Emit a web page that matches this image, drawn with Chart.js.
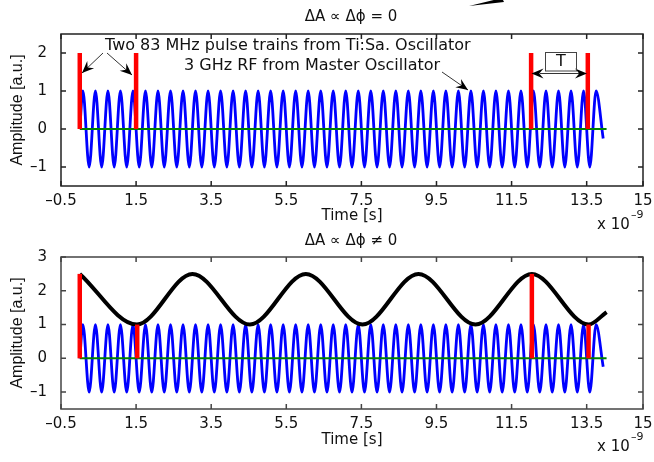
<!DOCTYPE html>
<html>
<head>
<meta charset="utf-8">
<script src="https://cdn.jsdelivr.net/npm/chart.js@4.4.1/dist/chart.umd.min.js"></script>
<style>
  html, body { margin: 0; padding: 0; background: #fff; }
  body { width: 654px; height: 462px; position: relative; overflow: hidden; }
  canvas { position: absolute; left: 0; }
  #topChart { top: 0; }
  #bottomChart { top: 230px; }
</style>
</head>
<body>
<canvas id="topChart" width="654" height="240"></canvas>
<canvas id="bottomChart" width="654" height="232"></canvas>
<script>
// time in ns (axis shows "x 10^-9")
const xTicks = [-0.5, 1.5, 3.5, 5.5, 7.5, 9.5, 11.5, 13.5, 15];
const yTicksTop = [-1, 0, 1, 2];
const yTicksBottom = [-1, 0, 1, 2, 3];

// 3 GHz RF: start, every peak / trough, end
const rfTime = [0,
  0.083, 0.25, 0.417, 0.583, 0.75, 0.917,
  1.083, 1.25, 1.417, 1.583, 1.75, 1.917,
  2.083, 2.25, 2.417, 2.583, 2.75, 2.917,
  3.083, 3.25, 3.417, 3.583, 3.75, 3.917,
  4.083, 4.25, 4.417, 4.583, 4.75, 4.917,
  5.083, 5.25, 5.417, 5.583, 5.75, 5.917,
  6.083, 6.25, 6.417, 6.583, 6.75, 6.917,
  7.083, 7.25, 7.417, 7.583, 7.75, 7.917,
  8.083, 8.25, 8.417, 8.583, 8.75, 8.917,
  9.083, 9.25, 9.417, 9.583, 9.75, 9.917,
  10.083, 10.25, 10.417, 10.583, 10.75, 10.917,
  11.083, 11.25, 11.417, 11.583, 11.75, 11.917,
  12.083, 12.25, 12.417, 12.583, 12.75, 12.917,
  13.083, 13.25, 13.417, 13.583, 13.75,
  13.94];
const rfAmp = [0,
  1, -1, 1, -1, 1, -1,
  1, -1, 1, -1, 1, -1,
  1, -1, 1, -1, 1, -1,
  1, -1, 1, -1, 1, -1,
  1, -1, 1, -1, 1, -1,
  1, -1, 1, -1, 1, -1,
  1, -1, 1, -1, 1, -1,
  1, -1, 1, -1, 1, -1,
  1, -1, 1, -1, 1, -1,
  1, -1, 1, -1, 1, -1,
  1, -1, 1, -1, 1, -1,
  1, -1, 1, -1, 1, -1,
  1, -1, 1, -1, 1, -1,
  1, -1, 1, -1, 1,
  -0.25];

const baseTime = [0, 14.03];
const baseAmp = [0, 0];

const pulseTimeTop = [0, 1.5, 12.02, 13.53];
const pulseAmpTop = [2, 2, 2, 2];
const pulseTimeBottom = [0, 1.53, 12.04, 13.55];
const pulseAmpBottom = [2.5, 1, 2.5, 1];

const envTime = [0, 1.52, 3.0, 4.53, 6.02, 7.53, 9.02, 10.54, 12.04, 13.55, 14.03];
const envAmp = [2.5, 1, 2.5, 1, 2.5, 1, 2.5, 1, 2.5, 1, 1.37];

const FONT_H = '"DejaVu Sans"';
const TXT = '#111';

const pts = (xs, ys) => xs.map((x, i) => ({ x: x, y: ys[i] }));
const fmt = v => String(v).replace('-', '\u2013');

function line(data, color, width, order) {
  return {
    data: data, borderColor: color, borderWidth: width, order: order,
    pointRadius: 0, fill: false, cubicInterpolationMode: 'monotone', borderCapStyle: 'butt'
  };
}

function pulses(times, amps) {
  return times.map((t, i) => line([{ x: t, y: 0 }, { x: t, y: amps[i] }], '#ff0000', 4.5, 0));
}

function arrowHead(ctx, x0, y0, x1, y1, L, W) {
  const ang = Math.atan2(y1 - y0, x1 - x0);
  ctx.save();
  ctx.translate(x1, y1);
  ctx.rotate(ang);
  ctx.beginPath();
  ctx.moveTo(0, 0);
  ctx.lineTo(-L, -W);
  ctx.lineTo(-L * 0.65, 0);
  ctx.lineTo(-L, W);
  ctx.closePath();
  ctx.fill();
  ctx.restore();
}

function arrow(ctx, x0, y0, x1, y1) {
  ctx.beginPath();
  ctx.moveTo(x0, y0);
  ctx.lineTo(x1, y1);
  ctx.stroke();
  arrowHead(ctx, x0, y0, x1, y1, 12, 5);
}

function frame(opts) {
  return {
    id: 'frame',
    afterDraw(chart) {
      const ctx = chart.ctx;
      const a = chart.chartArea;
      const x = chart.scales.x, y = chart.scales.y;
      ctx.save();
      ctx.strokeStyle = opts.boxColor;
      ctx.lineWidth = 1.5;
      ctx.beginPath();
      x.ticks.forEach(t => {
        const px = x.getPixelForValue(t.value);
        ctx.moveTo(px, a.bottom); ctx.lineTo(px, a.bottom - 5);
        ctx.moveTo(px, a.top); ctx.lineTo(px, a.top + 5);
      });
      y.ticks.forEach(t => {
        const py = y.getPixelForValue(t.value);
        ctx.moveTo(a.left, py); ctx.lineTo(a.left + 5, py);
        ctx.moveTo(a.right, py); ctx.lineTo(a.right - 5, py);
      });
      ctx.stroke();
      ctx.strokeRect(a.left, a.top, a.right - a.left, a.bottom - a.top);

      ctx.fillStyle = TXT;
      ctx.textBaseline = 'middle';
      ctx.textAlign = 'center';
      ctx.font = '15px ' + FONT_H;
      ctx.fillText(opts.title, 351, opts.titleY);
      ctx.fillText('Time [s]', 352, opts.xLabelY);
      ctx.textAlign = 'left';
      ctx.fillText('x 10', 597, opts.expY);
      ctx.font = '11px ' + FONT_H;
      ctx.fillText('\u20139', 631, opts.expY - 10);

      ctx.save();
      ctx.translate(18, (a.top + a.bottom) / 2);
      ctx.rotate(-Math.PI / 2);
      ctx.textAlign = 'center';
      ctx.font = '16px "Liberation Sans"';
      ctx.fillText('Amplitude [a.u.]', 0, 0);
      ctx.restore();

      if (opts.extra) opts.extra(ctx);
      ctx.restore();
    }
  };
}

function makeChart(id, datasets, yMin, yMax, yTicks, padTop, xAxisH, opts) {
  return new Chart(document.getElementById(id), {
    type: 'line',
    data: { datasets: datasets },
    options: {
      responsive: false,
      animation: false,
      events: [],
      layout: { padding: { top: padTop, right: 11, left: 0, bottom: 0 } },
      plugins: { legend: { display: false }, tooltip: { enabled: false } },
      scales: {
        x: {
          type: 'linear', min: -0.5, max: 15,
          grid: { display: false }, border: { display: false },
          afterBuildTicks: ax => { ax.ticks = xTicks.map(v => ({ value: v })); },
          afterFit: ax => { ax.height = xAxisH; },
          ticks: { padding: -2, color: TXT, font: { family: 'DejaVu Sans', size: 15 },
                   callback: fmt, maxRotation: 0, autoSkip: false }
        },
        y: {
          type: 'linear', min: yMin, max: yMax,
          grid: { display: false }, border: { display: false },
          afterBuildTicks: ax => { ax.ticks = yTicks.map(v => ({ value: v })); },
          afterFit: ax => { ax.width = 61; },
          ticks: { padding: 6, color: TXT, font: { family: 'DejaVu Sans', size: 15 }, callback: fmt }
        }
      }
    },
    plugins: [frame(opts)]
  });
}

document.addEventListener('DOMContentLoaded', () => {
  makeChart('topChart', [
    line(pts(rfTime, rfAmp), '#0000ff', 2.8, 3),
    line(pts(baseTime, baseAmp), '#008000', 2, 2),
    ...pulses(pulseTimeTop, pulseAmpTop)
  ], -1.5, 2.5, yTicksTop, 34, 54, {
    boxColor: '#222',
    title: '\u0394A \u221d \u0394\u03d5 = 0',
    titleY: 17.5, xLabelY: 216.5, expY: 225,
    extra: ctx => {
      ctx.font = '16px ' + FONT_H;
      ctx.textBaseline = 'alphabetic';
      ctx.textAlign = 'left';
      ctx.fillText('Two 83 MHz pulse trains from Ti:Sa. Oscillator', 105, 50);
      ctx.fillText('3 GHz RF from Master Oscillator', 184, 69.5);
      ctx.strokeStyle = '#333';
      ctx.fillStyle = '#000';
      ctx.lineWidth = 1;
      arrow(ctx, 103, 53, 82, 73);
      arrow(ctx, 107, 53, 132, 75);
      arrow(ctx, 442, 72, 468, 90);
      // T period marker
      ctx.beginPath();
      ctx.moveTo(540, 73.5); ctx.lineTo(580, 73.5);
      ctx.stroke();
      arrowHead(ctx, 560, 73.5, 531.5, 73.5, 12, 5);
      arrowHead(ctx, 560, 73.5, 587, 73.5, 12, 5);
      ctx.strokeStyle = '#444';
      ctx.strokeRect(545.5, 52.5, 31, 18.5);
      ctx.fillStyle = TXT;
      ctx.textAlign = 'center';
      ctx.textBaseline = 'middle';
      ctx.fillText('T', 561, 62);
      // stray arrow from surrounding figure
      ctx.fillStyle = '#000';
      ctx.beginPath();
      ctx.moveTo(469, 6); ctx.lineTo(502, -2); ctx.lineTo(504, 2);
      ctx.closePath();
      ctx.fill();
    }
  });

  makeChart('bottomChart', [
    line(pts(rfTime, rfAmp), '#0000ff', 2.8, 3),
    line(pts(baseTime, baseAmp), '#008000', 2, 2),
    line(pts(envTime, envAmp), '#000000', 4, 1),
    ...pulses(pulseTimeBottom, pulseAmpBottom)
  ], -1.5, 3, yTicksBottom, 27, 53, {
    boxColor: '#444',
    title: '\u0394A \u221d \u0394\u03d5 \u2260 0',
    titleY: 11, xLabelY: 210, expY: 217.5
  });
});
</script>
</body>
</html>
